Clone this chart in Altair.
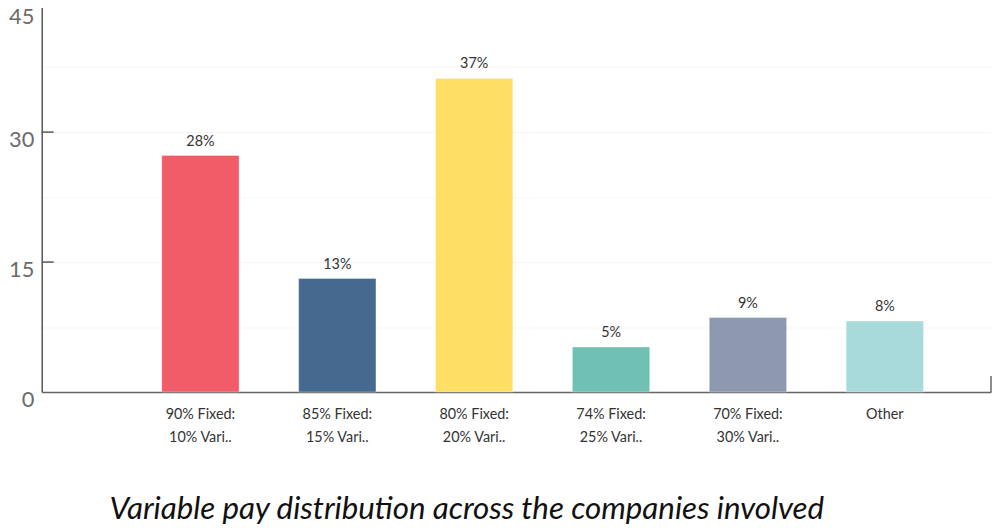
import altair as alt
import pandas as pd

categories = ["90% Fixed:\n10% Vari..", "85% Fixed:\n15% Vari..", "80% Fixed:\n20% Vari..",
              "74% Fixed:\n25% Vari..", "70% Fixed:\n30% Vari..", "Other"]
values = [27.3, 13.1, 36.2, 5.2, 8.6, 8.2]
value_labels = ["28%", "13%", "37%", "5%", "9%", "8%"]
colors = ["#F25C69", "#466A8F", "#FFDE66", "#70C1B3", "#8C99B0", "#A8DADC"]
y_ticks = [0, 15, 30, 45]
grid_values = [0, 7.5, 15, 22.5, 30, 37.5, 45]

df = pd.DataFrame({"cat": categories, "value": values, "label": value_labels})
ticks_df = pd.DataFrame({"t": y_ticks[1:]})

FONT = "Lato"

xscale = alt.Scale(domain=categories, paddingInner=0.435, paddingOuter=0.685, align=0.64)
yscale = alt.Scale(domain=[0, 45], nice=False, zero=True)

x_enc = alt.X("cat:N", scale=xscale, sort=categories, title=None,
              axis=alt.Axis(labelAngle=0, labelExpr="split(datum.label, '\\n')",
                            labelFontSize=14.5, labelColor="#333333", labelFont=FONT,
                            labelLineHeight=23, labelPadding=16, ticks=False, tickSize=0,
                            domainColor="#666666", domainWidth=1.5, labelBaseline="top"))
y_enc = alt.Y("value:Q", scale=yscale, title=None,
              axis=alt.Axis(values=grid_values, grid=True, gridColor="#f5f5f5",
                            labelExpr="datum.value % 15 == 0 ? datum.label : ''",
                            labelFontSize=22, labelColor="#6b6b6b", labelFont=FONT,
                            labelPadding=8,
                            labelOffset={"condition": {"test": "datum.value == 45", "value": 15}, "value": 8},
                            ticks=False, tickSize=0,
                            domainColor="#555555", domainWidth=1.5))

bars = alt.Chart(df).mark_bar(strokeWidth=1, strokeOpacity=0.35, stroke="#ffffff").encode(
    x=x_enc,
    y=y_enc,
    color=alt.Color("cat:N", scale=alt.Scale(domain=categories, range=colors), legend=None),
)

text = alt.Chart(df).mark_text(dy=-14, fontSize=14.5, color="#333333", font=FONT, baseline="middle").encode(
    x=alt.X("cat:N", scale=xscale, sort=categories),
    y=alt.Y("value:Q", scale=yscale),
    text="label:N",
)

tick_rules = alt.Chart(ticks_df).mark_rule(color="#555555", strokeWidth=1.5).encode(
    y=alt.Y("t:Q", scale=yscale),
    x=alt.value(0),
    x2=alt.value(12),
)

end_rule = alt.Chart(pd.DataFrame({"t": [0]})).mark_rule(color="#666666", strokeWidth=1.5).encode(
    x=alt.value(957),
    y=alt.Y("t:Q", scale=yscale),
    y2=alt.value(377),
)

chart = alt.layer(bars, text, tick_rules, end_rule).properties(
    width=957,
    height=393,
    autosize=alt.AutoSizeParams(type="none"),
    padding={"left": 34, "top": -8, "right": 1, "bottom": 135},
    title=alt.TitleParams(
        "Variable pay distribution across the companies involved",
        orient="bottom", anchor="middle", dx=-50, offset=51,
        fontSize=31.5, fontStyle="italic", fontWeight="normal", font=FONT, color="#111111",
    ),
).configure_view(stroke=None)

chart.save("out.html", embed_options={"renderer": "svg", "actions": False})
